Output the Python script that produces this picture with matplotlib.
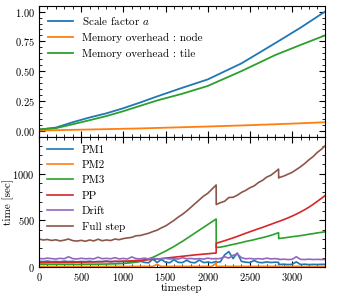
import numpy as np
import matplotlib
matplotlib.use("Agg")
from matplotlib import pyplot as plt
from matplotlib.ticker import MultipleLocator, AutoMinorLocator

plt.rcParams["font.family"] = "serif"
plt.rcParams["font.serif"] = ["cmr10", "DejaVu Serif"]
plt.rcParams["mathtext.fontset"] = "cm"
plt.rcParams["axes.formatter.use_mathtext"] = True
plt.rcParams["font.size"] = 8
plt.rcParams["xtick.labelsize"] = 7.5
plt.rcParams["ytick.labelsize"] = 7.5

# ---- top panel: scale factor and memory overhead ----
top_ts = [0, 200, 400, 600, 800, 1000, 1200, 1400, 1700, 2000, 2400, 2800, 3100, 3390]
scale_factor = [0.008, 0.025, 0.07, 0.11, 0.145, 0.188, 0.236, 0.287, 0.36, 0.43, 0.565, 0.735, 0.865, 1.0]
mem_node = [0.0, 0.003, 0.006, 0.009, 0.012, 0.015, 0.018, 0.022, 0.028, 0.034, 0.043, 0.053, 0.061, 0.07]
mem_tile = [0.01, 0.02, 0.053, 0.087, 0.122, 0.163, 0.208, 0.253, 0.31, 0.375, 0.50, 0.635, 0.72, 0.80]

# ---- bottom panel: timings per step ----
# sample points, with duplicates around the two restarts (2100, 2840)
ts_a = list(range(0, 2101, 50))
ts_b = [2101] + list(range(2150, 2801, 50)) + [2840, 2841]
ts_c = list(range(2850, 3351, 50)) + [3390]
timestep = np.array(ts_a + ts_b + ts_c)

pm1 = [62, 58, 64, 57, 60, 56, 63, 58, 61, 55, 60, 57, 62, 56, 59, 58, 64, 55, 60, 57,
       61, 56, 59, 55, 62, 50, 45, 85, 48, 80, 52, 46, 78, 50, 47, 72, 50, 45, 75, 48,
       52, 46, 60,
       50, 55, 130, 165, 90, 150, 60, 52, 48, 70, 50, 46, 55, 48, 52, 50, 28,
       27, 30, 26, 29, 55, 27, 30, 26, 28, 27, 29, 28]
pm2 = [6, 7, 6, 6, 7, 6, 6, 7, 6, 6, 7, 6, 6, 7, 6, 6, 7, 6, 6, 7,
       6, 6, 7, 6, 6, 7, 6, 6, 28, 6, 7, 6, 6, 7, 6, 6, 7, 6, 6, 7,
       6, 6, 45,
       6, 6, 7, 6, 6, 7, 6, 6, 7, 6, 6, 7, 6, 6, 7, 6, 6,
       6, 7, 6, 6, 7, 6, 6, 7, 6, 6, 7, 6]
pm3 = [31, 30, 30, 29, 30, 30, 29, 30, 30, 29, 30, 30, 31, 30, 31, 31, 32, 33, 34, 36,
       38, 42, 46, 52, 60, 72, 88, 104, 125, 148, 170, 195, 220, 248, 275, 305, 335, 365, 395, 425,
       455, 485, 515,
       210, 213, 222, 232, 242, 252, 262, 274, 283, 293, 305, 315, 327, 340, 355, 368, 305,
       306, 312, 318, 325, 330, 337, 343, 352, 358, 366, 372, 378]
pp = [48, 48, 49, 49, 50, 50, 50, 51, 51, 52, 52, 53, 54, 55, 56, 57, 58, 59, 60, 61,
      62, 64, 66, 69, 72, 75, 78, 82, 86, 90, 95, 100, 105, 110, 115, 120, 125, 130, 134, 138,
      142, 146, 150,
      255, 268, 282, 297, 312, 328, 345, 362, 378, 394, 410, 425, 442, 458, 475, 488, 488,
      491, 508, 526, 546, 567, 590, 615, 642, 672, 705, 738, 765]
drift = [92, 88, 95, 90, 86, 93, 89, 110, 90, 86, 94, 88, 91, 87, 105, 89, 93, 88, 100, 87,
         92, 86, 108, 90, 88, 95, 86, 92, 89, 87, 93, 86, 90, 85, 100, 88, 92, 86, 90, 85,
         95, 88, 90,
         88, 92, 110, 95, 125, 140, 100, 88, 92, 86, 90, 85, 95, 87, 90, 86, 84,
         80, 84, 80, 82, 110, 82, 80, 84, 80, 82, 80, 81]
full_step = [300, 290, 295, 285, 292, 280, 288, 300, 283, 278, 286, 276, 290, 280, 298, 282, 290, 284, 300, 293,
             305, 312, 318, 335, 338, 350, 362, 380, 395, 420, 440, 470, 500, 535, 565, 600, 640, 680, 720, 760,
             790, 835, 880,
             670, 690, 705, 745, 748, 770, 800, 822, 850, 870, 905, 930, 965, 985, 1020, 1050, 955,
             960, 975, 995, 1015, 1045, 1075, 1110, 1150, 1185, 1230, 1265, 1300]

bottom_series = [
    ("PM1", pm1),
    ("PM2", pm2),
    ("PM3", pm3),
    ("PP", pp),
    ("Drift", drift),
    ("Full step", full_step),
]

X_MAX = 3390


def style_axis(ax):
    ax.tick_params(which="both", direction="in", top=True, right=True)
    ax.tick_params(which="major", length=4, width=0.8, pad=3)
    ax.tick_params(which="minor", length=2, width=0.6)
    ax.xaxis.set_major_locator(MultipleLocator(500))
    ax.xaxis.set_minor_locator(AutoMinorLocator(5))
    ax.yaxis.set_minor_locator(AutoMinorLocator(5))
    ax.set_xlim(0, X_MAX)


fig = plt.figure(figsize=(3.57, 2.97), dpi=100)
ax_top = fig.add_axes([0.1092, 0.5404, 0.8011, 0.4404])
ax_bot = fig.add_axes([0.1092, 0.1010, 0.8011, 0.4394], sharex=ax_top)

ax_top.plot(top_ts, scale_factor, color="C0", lw=1.3, label="Scale factor $a$")
ax_top.plot(top_ts, mem_node, color="C1", lw=1.3, label="Memory overhead : node")
ax_top.plot(top_ts, mem_tile, color="C2", lw=1.3, label="Memory overhead : tile")
style_axis(ax_top)
ax_top.set_ylim(-0.05, 1.05)
ax_top.yaxis.set_major_locator(MultipleLocator(0.25))
ax_top.tick_params(labelbottom=False)
ax_top.legend(loc="upper left", frameon=False, handlelength=2.3, labelspacing=0.55,
              handletextpad=0.8, borderaxespad=0.4)

for i, (label, values) in enumerate(bottom_series):
    ax_bot.plot(timestep, values, color=f"C{i}", lw=1.2, label=label)
style_axis(ax_bot)
ax_bot.set_ylim(0, 1400)
ax_bot.yaxis.set_major_locator(MultipleLocator(500))
ax_bot.set_xlabel("timestep", labelpad=0)
ax_bot.set_ylabel("time [sec]")
ax_bot.yaxis.set_label_coords(-0.088, 0.5)
ax_bot.legend(loc="upper left", frameon=False, handlelength=2.3, labelspacing=0.5,
              handletextpad=0.8, borderaxespad=0.35)

fig.savefig("out.png", dpi=100)
